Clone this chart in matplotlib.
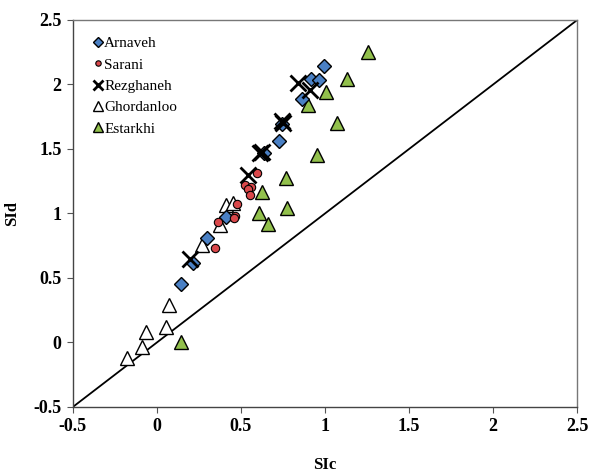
import matplotlib
matplotlib.use("Agg")
import matplotlib.pyplot as plt

arnaveh_x = [0.143, 0.212, 0.298, 0.411, 0.639, 0.728, 0.746, 0.865, 0.917, 0.962, 0.992]
arnaveh_y = [0.453, 0.614, 0.810, 0.975, 1.471, 1.565, 1.694, 1.888, 2.040, 2.035, 2.146]

sarani_x = [0.597, 0.524, 0.558, 0.544, 0.554, 0.478, 0.464, 0.458, 0.365, 0.345]
sarani_y = [1.311, 1.221, 1.208, 1.188, 1.143, 1.074, 0.981, 0.963, 0.936, 0.730]

rezghaneh_x = [0.196, 0.544, 0.613, 0.623, 0.745, 0.752, 0.841, 0.911]
rezghaneh_y = [0.645, 1.298, 1.471, 1.480, 1.720, 1.699, 2.009, 1.957]

ghordanloo_x = [-0.180, -0.091, -0.065, 0.052, 0.073, 0.266, 0.375, 0.411, 0.454]
ghordanloo_y = [-0.122, -0.032, 0.084, 0.122, 0.291, 0.756, 0.911, 1.066, 1.079]

estarkhi_x = [0.143, 0.627, 0.609, 0.659, 0.768, 0.772, 0.950, 1.258, 1.129, 1.006, 0.901, 1.069]
estarkhi_y = [0.000, 1.169, 1.006, 0.919, 1.273, 1.040, 1.453, 2.254, 2.040, 1.944, 1.841, 1.699]

line_pts = [-0.5, 2.5]
ticks = [-0.5, 0, 0.5, 1, 1.5, 2, 2.5]
tick_labels = ["-0.5", "0", "0.5", "1", "1.5", "2", "2.5"]

fig = plt.figure(figsize=(5.92, 4.76), dpi=100)
ax = fig.add_axes([0.123, 0.145, 0.852, 0.813])

ax.plot(line_pts, line_pts, color="black", lw=1.3, zorder=1)

ax.plot(arnaveh_x, arnaveh_y, ls="none", marker="D", ms=7.5, mfc="#4a80c4",
        mec="black", mew=1.0, label="Arnaveh", zorder=3)
ax.plot(sarani_x, sarani_y, ls="none", marker="o", ms=6, mfc="#d9474a",
        mec="black", mew=0.8, label="Sarani", zorder=3)
ax.plot(rezghaneh_x, rezghaneh_y, ls="none", marker="x", ms=11, mec="black",
        mew=2.0, label="Rezghaneh", zorder=4)
ax.plot(ghordanloo_x, ghordanloo_y, ls="none", marker="^", ms=10, mfc="white",
        mec="black", mew=1.0, label="Ghordanloo", zorder=2)
ax.plot(estarkhi_x, estarkhi_y, ls="none", marker="^", ms=10, mfc="#92c04c",
        mec="black", mew=1.0, label="Estarkhi", zorder=2)

ax.set_xlim(-0.5, 2.5)
ax.set_ylim(-0.5, 2.5)
ax.set_xticks(ticks)
ax.set_yticks(ticks)
ax.set_xticklabels(tick_labels, fontfamily="Liberation Serif", fontweight="bold", fontsize=13)
ax.set_yticklabels(tick_labels, fontfamily="Liberation Serif", fontweight="bold", fontsize=13)
ax.tick_params(direction="out", length=4, width=0.8, color="#555555", pad=4)

for side in ["left", "bottom"]:
    ax.spines[side].set_color("#444444")
    ax.spines[side].set_linewidth(1.0)
for side in ["top", "right"]:
    ax.spines[side].set_color("#777777")
    ax.spines[side].set_linewidth(1.0)

ax.set_xlabel("SIc", fontfamily="Liberation Serif", fontweight="bold", fontsize=12, labelpad=16)
ax.set_ylabel("SId", fontfamily="Liberation Serif", fontweight="bold", fontsize=12)
ax.yaxis.set_label_coords(-0.105, 0.5)

leg = ax.legend(loc="upper left", bbox_to_anchor=(0.02, 0.985), frameon=False,
                prop={"family": "Liberation Serif", "size": 11},
                markerscale=0.65, handlelength=0.6, handletextpad=0.1,
                labelspacing=0.5, borderaxespad=0.3)

fig.savefig("out.png", dpi=100)
